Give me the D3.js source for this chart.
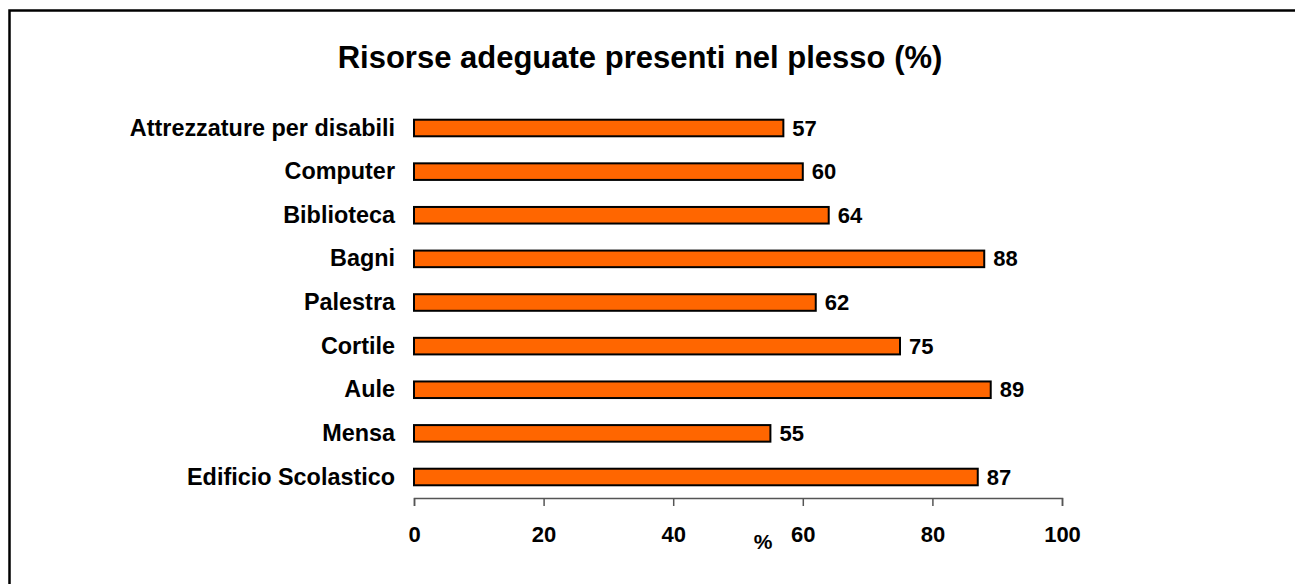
<!DOCTYPE html>
<html>
<head>
<meta charset="utf-8">
<script src="https://cdn.jsdelivr.net/npm/d3@7"></script>
<style>
  html, body { margin: 0; padding: 0; background: #fff; }
  svg { display: block; }
  text { font-family: "Liberation Sans", Arial, sans-serif; font-weight: bold; fill: #000; }
</style>
</head>
<body>
<svg id="chart" width="1295" height="584"></svg>
<script>
const categories = ["Attrezzature per disabili", "Computer", "Biblioteca", "Bagni", "Palestra", "Cortile", "Aule", "Mensa", "Edificio Scolastico"];
const values = [57, 60, 64, 88, 62, 75, 89, 55, 87];
const xTicks = [0, 20, 40, 60, 80, 100];
const title = "Risorse adeguate presenti nel plesso (%)";
const xAxisLabel = "%";

const svg = d3.select("#chart");

// outer frame (extends beyond right/bottom edge)
svg.append("rect")
  .attr("x", 9.5).attr("y", 10.5)
  .attr("width", 1400).attr("height", 700)
  .attr("fill", "none").attr("stroke", "#000").attr("stroke-width", 2.5);

const x = d3.scaleLinear().domain([0, 100]).range([414, 1062]);
const step = 43.625;
const y = d3.scaleBand().domain(categories)
  .range([128 - step / 2, 477 + step / 2])
  .paddingInner(0.62).paddingOuter(0.31);

// title
svg.append("text")
  .attr("x", 640).attr("y", 68)
  .attr("text-anchor", "middle")
  .style("font-size", "31px")
  .text(title);

// bars
svg.append("g").selectAll("rect").data(values).join("rect")
  .attr("x", x(0))
  .attr("y", (d, i) => y(categories[i]))
  .attr("width", d => x(d) - x(0))
  .attr("height", y.bandwidth())
  .attr("fill", "#FF6600")
  .attr("stroke", "#000")
  .attr("stroke-width", 2);

// value labels
svg.append("g").selectAll("text").data(values).join("text")
  .attr("x", d => x(d) + 9)
  .attr("y", (d, i) => y(categories[i]) + y.bandwidth() / 2 + 7.5)
  .style("font-size", "22px")
  .text(d => d);

// category labels
svg.append("g").selectAll("text").data(categories).join("text")
  .attr("x", 395)
  .attr("y", d => y(d) + y.bandwidth() / 2 + 7.5)
  .attr("text-anchor", "end")
  .style("font-size", "23.4px")
  .text(d => d);

// x axis
const axis = d3.axisBottom(x).tickValues(xTicks).tickSize(8).tickPadding(20).tickFormat(d3.format("d"));
const gx = svg.append("g").attr("transform", "translate(0,498)").call(axis);
gx.select(".domain").attr("stroke", "#555").attr("stroke-width", 1.5);
gx.selectAll(".tick line").attr("stroke", "#555").attr("stroke-width", 1.5);
gx.selectAll(".tick text")
  .style("font-family", "\"Liberation Sans\", Arial, sans-serif")
  .style("font-weight", "bold")
  .style("font-size", "22px")
  .attr("fill", "#000");

// axis label
svg.append("text")
  .attr("x", 763).attr("y", 549)
  .attr("text-anchor", "middle")
  .style("font-size", "21px")
  .text(xAxisLabel);
</script>
</body>
</html>
